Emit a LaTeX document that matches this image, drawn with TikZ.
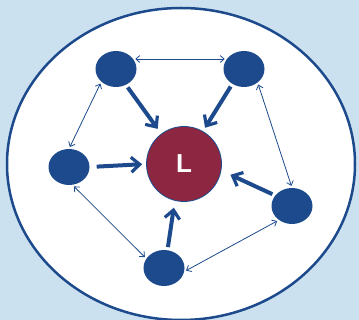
\documentclass[tikz,border=0pt]{standalone}
\usepackage{fontspec}
\setsansfont{Liberation Sans}
\usetikzlibrary{arrows.meta,shapes.geometric}
\definecolor{bgblue}{HTML}{CCE1EF}
\definecolor{nodeblue}{HTML}{1C4A8C}
\definecolor{maroon}{HTML}{8C2641}
\tikzset{
  peer/.style={ellipse,fill=nodeblue,draw=none,minimum width=41pt,minimum height=36pt,inner sep=0pt},
  leader/.style={circle,fill=maroon,draw=nodeblue,line width=0.8pt,minimum size=75pt,inner sep=0pt,
    text=white,font=\sffamily\bfseries\fontsize{26}{26}\selectfont},
  link/.style={draw=nodeblue,line width=0.8pt,{Straight Barb[length=4pt,width=7pt]}-{Straight Barb[length=4pt,width=7pt]},shorten <=2pt,shorten >=2pt},
  push/.style={draw=nodeblue,line width=4pt,-{Straight Barb[length=8.5pt,width=15pt,line width=3.2pt]}},
}
\begin{document}
\begin{tikzpicture}[x=1pt,y=-1pt]
\useasboundingbox (0,0) rectangle (359,320);
\fill[bgblue] (0,0) rectangle (359,320);
\draw[nodeblue,line width=2.5pt,fill=white] (181,164) ellipse [x radius=174, y radius=156];
\node[peer] (tl) at (116,69) {};
\node[peer] (tr) at (244,69) {};
\node[peer] (lf) at (69,167) {};
\node[peer] (rt) at (292,206) {};
\node[peer] (bt) at (164,268) {};
\node[leader] (c) at (184,164) {L};
% thin double arrows
\draw[link] (tl.30) -- (tr.150);
\draw[link] (tl.221) -- (lf.90);
\draw[link] (lf.281) -- (bt.152);
\draw[link] (bt.350) -- (rt.227);
\draw[link] (rt.90) -- (tr.315);
% thick arrows to the leader
\draw[push,shorten <=3pt,shorten >=6pt] (tl.302) -- (c.127);
\draw[push,shorten <=3pt,shorten >=4pt] (tr.232) -- (c.60);
\draw[push,shorten <=7pt,shorten >=4pt] (lf.east) -- (c.west);
\draw[push,shorten <=3pt,shorten >=10pt] (rt.148) -- (c.350);
\draw[push,shorten <=3pt,shorten >=7pt] (bt.79) -- (c.256);
\end{tikzpicture}
\end{document}
